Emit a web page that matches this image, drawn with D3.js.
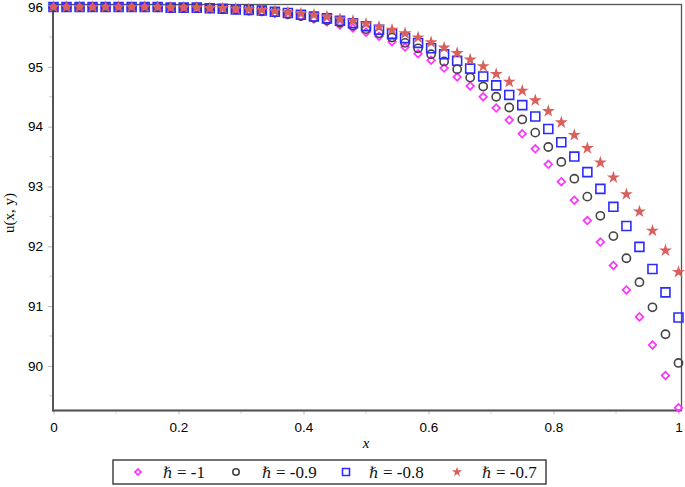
<!DOCTYPE html>
<html>
<head>
<meta charset="utf-8">
<script src="https://cdn.jsdelivr.net/npm/d3@7"></script>
<style>
  html, body { margin: 0; padding: 0; background: #fff; }
  svg { display: block; }
</style>
</head>
<body>
<script>
// ---- data ----
const xValues = d3.range(49).map(i => i / 48); // 49 sample points, step 1/48
const seriesH = ["-1", "-0.9", "-0.8", "-0.7"];
const hm10 = [96.00,96.00,96.00,96.00,96.00,96.00,96.00,96.00,95.99,95.99,95.99,95.98,95.97,95.96,95.95,95.94,95.92,95.89,95.87,95.84,95.80,95.75,95.70,95.65,95.58,95.51,95.42,95.33,95.22,95.11,94.98,94.83,94.68,94.50,94.31,94.11,93.88,93.63,93.37,93.08,92.77,92.43,92.07,91.68,91.27,90.82,90.35,89.84,89.30];
const hm09 = [96.00,96.00,96.00,96.00,96.00,96.00,96.00,96.00,96.00,95.99,95.99,95.98,95.98,95.97,95.96,95.94,95.93,95.91,95.88,95.85,95.82,95.78,95.74,95.69,95.63,95.56,95.49,95.40,95.31,95.21,95.09,94.96,94.82,94.67,94.50,94.32,94.12,93.90,93.66,93.41,93.13,92.83,92.51,92.17,91.80,91.40,90.98,90.53,90.05];
const hm08 = [96.00,96.00,96.00,96.00,96.00,96.00,96.00,96.00,96.00,95.99,95.99,95.99,95.98,95.97,95.96,95.95,95.94,95.92,95.90,95.87,95.84,95.81,95.77,95.73,95.68,95.62,95.55,95.48,95.40,95.31,95.21,95.10,94.97,94.84,94.69,94.53,94.36,94.17,93.96,93.74,93.50,93.24,92.96,92.66,92.34,91.99,91.62,91.23,90.81];
const hm07 = [96.00,96.00,96.00,96.00,96.00,96.00,96.00,96.00,96.00,95.99,95.99,95.99,95.98,95.98,95.97,95.96,95.95,95.93,95.91,95.89,95.87,95.84,95.80,95.77,95.72,95.67,95.62,95.56,95.49,95.41,95.32,95.23,95.12,95.01,94.88,94.75,94.60,94.44,94.26,94.07,93.86,93.64,93.40,93.15,92.87,92.58,92.26,91.93,91.57];
const xTicks = [0, 0.2, 0.4, 0.6, 0.8, 1];
const xTickLabels = ["0", "0.2", "0.4", "0.6", "0.8", "1"];
const yTicks = [90, 91, 92, 93, 94, 95, 96];

// ---- layout ----
const W = 685, H = 487;
const svg = d3.select("body").append("svg").attr("width", W).attr("height", H);

const x = d3.scaleLinear().domain([0, 1]).range([53.5, 678.5]);
const y = d3.scaleLinear().domain([89.255, 96.042]).range([410.5, 4.5]);

const frameL = 53, frameR = 681.5, frameT = 4.5, frameB = 410.5;

svg.append("rect")
  .attr("x", frameL).attr("y", frameT)
  .attr("width", frameR - frameL).attr("height", frameB - frameT)
  .attr("fill", "none").attr("stroke", "#555").attr("stroke-width", 1.3);

const tickFont = "Liberation Sans, Arial, sans-serif";

const yAxis = d3.axisLeft(y).tickValues(yTicks).tickSize(5).tickPadding(5).tickFormat(d3.format("d"));
const gy = svg.append("g").attr("transform", `translate(${frameL},0)`).call(yAxis);
gy.select(".domain").remove();
gy.selectAll(".tick line").attr("stroke", "#bbb");
gy.selectAll(".tick text").attr("font-family", tickFont).attr("font-size", 13.5).attr("fill", "#000");
svg.append("g").selectAll("line").data(d3.range(89.5, 96, 1)).join("line")
  .attr("x1", frameL - 4).attr("x2", frameL).attr("y1", d => y(d)).attr("y2", d => y(d))
  .attr("stroke", "#ccc");

const xAxis = d3.axisBottom(x).tickValues(xTicks).tickSize(4).tickPadding(8)
  .tickFormat((d, i) => xTickLabels[i]);
const gx = svg.append("g").attr("transform", `translate(0,${frameB})`).call(xAxis);
gx.select(".domain").remove();
gx.selectAll(".tick line").attr("stroke", "#bbb");
gx.selectAll(".tick text").attr("font-family", tickFont).attr("font-size", 13.5).attr("fill", "#000");
svg.append("g").selectAll("line").data([0.1, 0.3, 0.5, 0.7, 0.9]).join("line")
  .attr("x1", d => x(d)).attr("x2", d => x(d)).attr("y1", frameB).attr("y2", frameB + 3)
  .attr("stroke", "#ccc");

svg.append("line").attr("x1", frameL).attr("x2", frameL).attr("y1", frameT).attr("y2", frameB + 1)
  .attr("stroke", "#555").attr("stroke-width", 2);
svg.append("line").attr("x1", frameL).attr("x2", frameR).attr("y1", frameB).attr("y2", frameB)
  .attr("stroke", "#555").attr("stroke-width", 2);

svg.append("text").attr("x", 366).attr("y", 448).attr("text-anchor", "middle")
  .attr("font-family", "Liberation Serif, Times New Roman, serif").attr("font-style", "italic")
  .attr("font-size", 15).text("x");
svg.append("text").attr("transform", "translate(14,213) rotate(-90)").attr("text-anchor", "middle")
  .attr("font-family", "Liberation Serif, Times New Roman, serif")
  .attr("font-size", 15).text("u(x, y)");

// ---- markers ----
const styles = [
  { data: hm10, type: "diamond", color: "#ff33ff" },
  { data: hm09, type: "circle", color: "#444444" },
  { data: hm08, type: "square", color: "#2b2bff" },
  { data: hm07, type: "star", color: "#d9605c" }
];

function drawMarker(g, type, color, scale) {
  if (type === "diamond") {
    g.append("path").attr("d", d3.symbol(d3.symbolSquare, 29 * scale * scale)())
      .attr("transform", "rotate(45)")
      .attr("fill", "none").attr("stroke", color).attr("stroke-width", 1.7);
  } else if (type === "circle") {
    g.append("circle").attr("r", 4.1 * scale)
      .attr("fill", "none").attr("stroke", color).attr("stroke-width", 1.6);
  } else if (type === "square") {
    g.append("path").attr("d", d3.symbol(d3.symbolSquare, 80 * scale * scale)())
      .attr("fill", "none").attr("stroke", color).attr("stroke-width", 1.6);
  } else {
    g.append("path").attr("d", d3.symbol(d3.symbolStar, 52 * scale * scale)())
      .attr("fill", color).attr("stroke", "none");
  }
}

styles.forEach(s => {
  const g = svg.append("g");
  s.data.forEach((v, i) => {
    const m = g.append("g").attr("transform", `translate(${x(xValues[i])},${y(v)})`);
    drawMarker(m, s.type, s.color, 1);
  });
});

// ---- legend ----
const leg = svg.append("g");
leg.append("rect").attr("x", 113).attr("y", 460).attr("width", 433).attr("height", 24)
  .attr("fill", "#fff").attr("stroke", "#444").attr("stroke-width", 1.5);
const symX = [138, 236, 346, 457];
const txtX = [163, 262, 369, 482];
styles.forEach((s, i) => {
  const m = leg.append("g").attr("transform", `translate(${symX[i]},472)`);
  drawMarker(m, s.type, s.color, 0.78);
  const t = leg.append("text").attr("x", txtX[i]).attr("y", 478)
    .attr("font-family", "Liberation Serif, Times New Roman, serif").attr("font-size", 17)
    .attr("fill", "#111");
  t.append("tspan").attr("font-family", "DejaVu Serif, serif").attr("font-style", "italic")
    .attr("font-size", 15).text("ℏ");
  t.append("tspan").text(" = " + seriesH[i]);
});
</script>
</body>
</html>
